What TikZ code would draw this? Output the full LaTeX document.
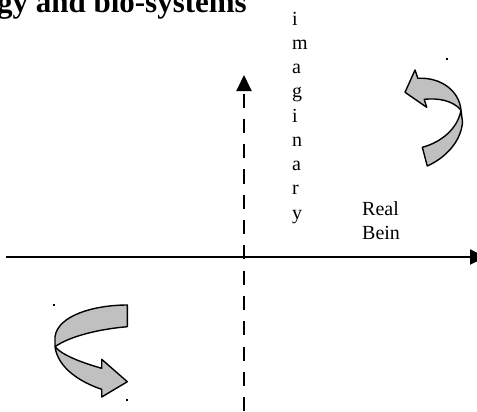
\documentclass[tikz,border=0pt]{standalone}
\usepackage{fontspec}
\setmainfont{Liberation Serif}
\usetikzlibrary{arrows.meta}

\definecolor{ribbon}{RGB}{192,192,192}

\tikzset{
  axisline/.style={line width=2.2bp, black},
  axisdash/.style={line width=2bp, black, dash pattern=on 14bp off 11.33bp, dash phase=22.33bp},
  ribbonarrow/.style={fill=ribbon, draw=black, line width=1.4bp, line join=round},
  label/.style={inner sep=0pt, font=\fontsize{20bp}{24bp}\selectfont},
  speck/.style={fill=black}
}

\begin{document}
\begin{tikzpicture}[x=1bp, y=-1bp]
  \useasboundingbox (0,0) rectangle (477,411);

  % heading, partly outside the page
  \node[anchor=base east, inner sep=0pt, font=\fontsize{31bp}{37bp}\selectfont\bfseries]
    (title) at (247,12) {gy and bio-systems};

  % axes
  \coordinate (xl) at (6,257);
  \coordinate (xr) at (486,257);
  \coordinate (yt) at (244,75);
  \coordinate (yb) at (244,425);
  \draw[axisline, -{Triangle[length=16bp, width=15bp]}] (xl) -- (xr);
  \draw[axisdash, {Triangle[length=16bp, width=15bp]}-] (yt) -- (yb);

  % axis labels
  \node[label, anchor=base west] (imag) at (292,25)
    {\vtop{\baselineskip=24.25bp \hbox{i}\hbox{m}\hbox{a}\hbox{g}\hbox{i}\hbox{n}\hbox{a}\hbox{r}\hbox{y}}};
  \node[label, anchor=base west] (real) at (362,215)
    {\vtop{\baselineskip=24bp \hbox{Real}\hbox{Bein}}};

  % twisted ribbon arrow, upper right
  \draw[ribbonarrow]
    (405,92.3) -- (415,70) -- (417.8,78.3)
    .. controls (440,77) and (459,90) .. (461,110)
    -- (462.5,122)
    .. controls (461,142) and (445,158) .. (427.3,166)
    -- (422.3,147.3)
    .. controls (442,142) and (458,128) .. (461,110)
    .. controls (452,100) and (438,98) .. (424.2,99.3)
    -- (426.7,107.3) -- cycle;

  % twisted ribbon arrow, lower left
  \draw[ribbonarrow]
    (127.3,305)
    .. controls (95,305) and (58,315) .. (55,336.7)
    -- (55,346.7)
    .. controls (58,368) and (80,382) .. (101.7,389.3)
    -- (101.7,397) -- (127.3,381.7) -- (101.7,359.3) -- (101.7,368.3)
    .. controls (80,362) and (62,355) .. (55,346.7)
    .. controls (70,336) and (100,329) .. (127.3,326.7)
    -- cycle;

  % small specks
  \fill[speck] (446.4,58.4) rectangle +(1.3,1.3);
  \fill[speck] (53.4,304.4) rectangle +(1.3,1.3);
  \fill[speck] (126.4,399.4) rectangle +(1.3,1.3);
\end{tikzpicture}
\end{document}
